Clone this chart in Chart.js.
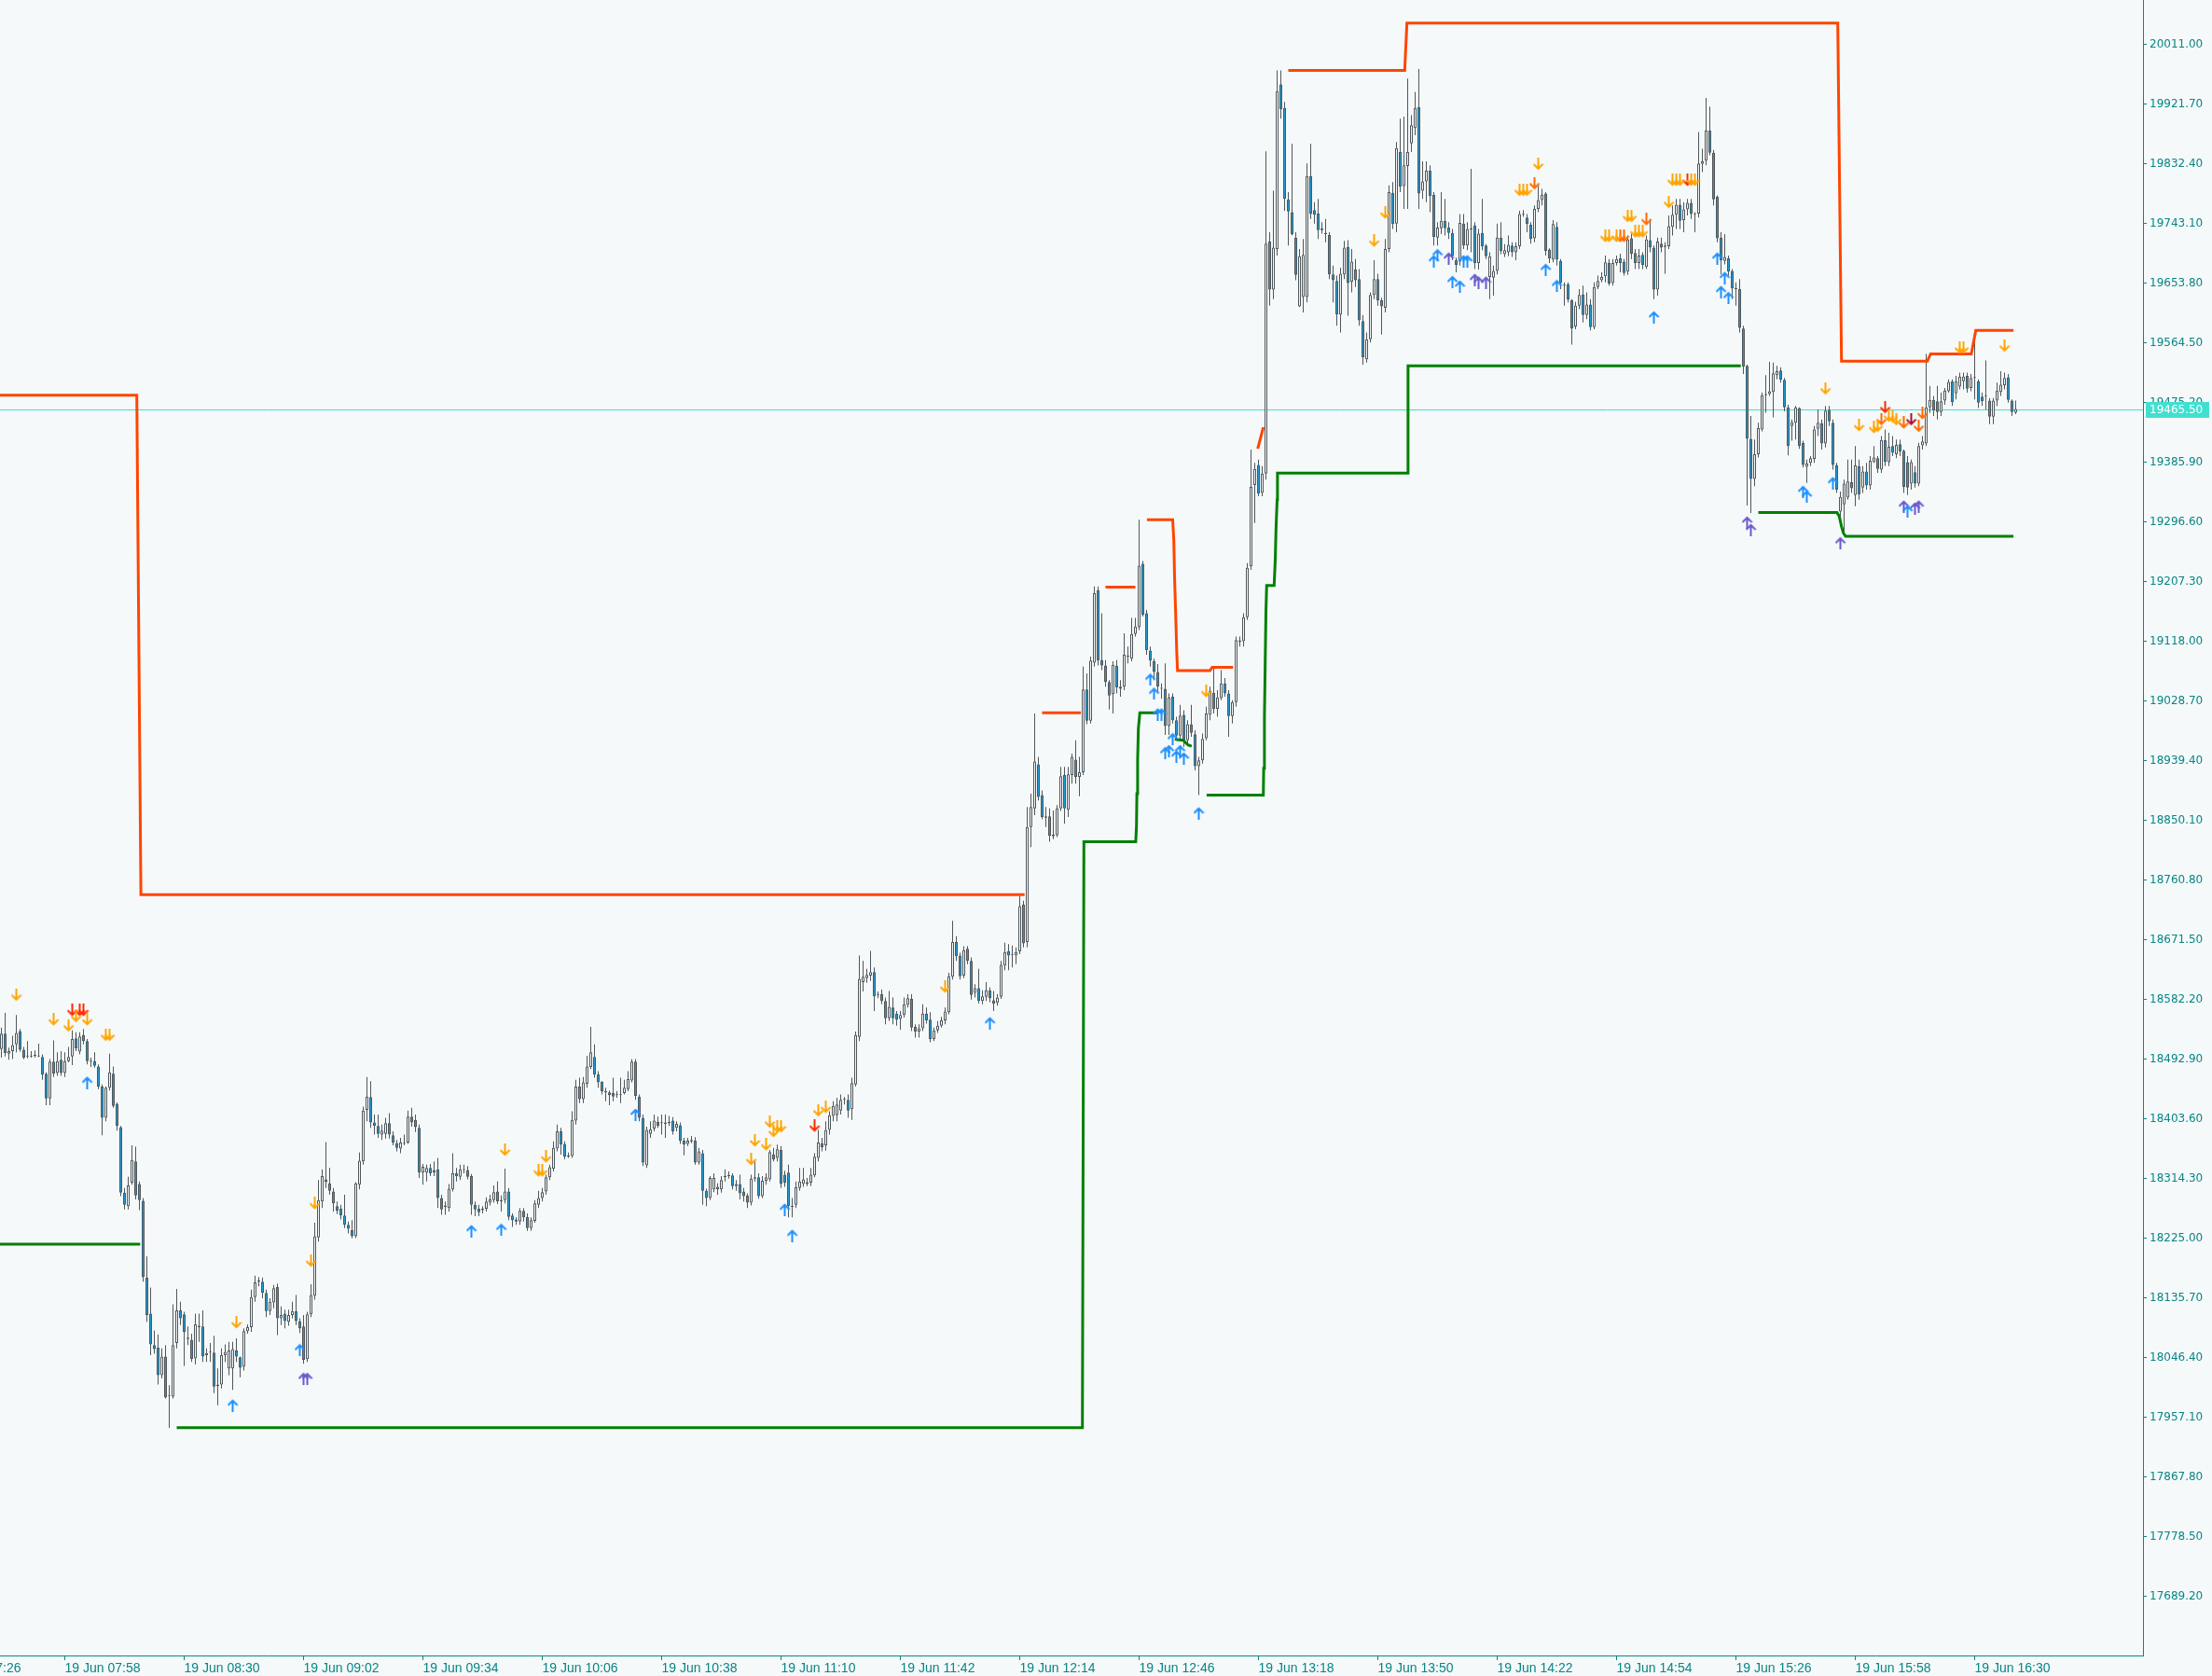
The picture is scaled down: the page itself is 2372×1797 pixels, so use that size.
<!DOCTYPE html>
<html>
<head>
<meta charset="utf-8">
<script src="https://cdn.jsdelivr.net/npm/chart.js@4.4.1/dist/chart.umd.min.js"></script>
<style>
  html, body { margin: 0; padding: 0; background: #f5f9fa; }
  #wrap { width: 2372px; height: 1797px; }
</style>
</head>
<body>
<div id="wrap"><canvas id="myChart"></canvas></div>
<script>
// 1 minute candles, 19 Jun, first bar is 07:41
const startTime = '07:41';

const opens = [
18508,18531,18501,18505,18515,18535,18507,18497,18497,18498,
18497,18496,18471,18434,18489,18472,18492,18472,18490,18497,
18524,18504,18529,18520,18489,18490,18482,18452,18405,18450,
18471,18426,18391,18293,18273,18308,18340,18306,18281,18166,
18112,18065,18061,18020,18048,17989,17988,18068,18117,18111,
18074,18073,18045,18094,18093,18050,18054,18054,18004,18006,
18050,18030,18030,18057,18047,18033,18086,18092,18137,18160,
18160,18143,18116,18129,18152,18105,18112,18100,18110,18116,
18101,18093,18044,18111,18139,18226,18280,18313,18307,18295,
18273,18269,18259,18245,18237,18228,18305,18340,18417,18436,
18398,18393,18380,18381,18397,18379,18367,18359,18367,18368,
18407,18402,18390,18323,18323,18330,18327,18328,18285,18272,
18270,18298,18322,18317,18327,18327,18318,18275,18269,18267,
18269,18278,18282,18295,18280,18282,18295,18259,18253,18250,
18266,18257,18240,18251,18275,18285,18295,18316,18329,18359,
18385,18366,18347,18348,18401,18452,18433,18456,18481,18496,
18470,18459,18445,18443,18442,18439,18440,18442,18448,18461,
18489,18437,18405,18334,18381,18389,18399,18397,18396,18397,
18401,18390,18394,18371,18366,18370,18371,18338,18352,18296,
18285,18298,18302,18298,18316,18318,18319,18303,18306,18295,
18289,18278,18314,18316,18288,18311,18313,18350,18345,18357,
18320,18323,18273,18275,18300,18306,18306,18308,18319,18345,
18367,18364,18387,18408,18409,18416,18432,18432,18418,18455,
18526,18608,18614,18618,18623,18589,18590,18580,18554,18570,
18561,18553,18559,18574,18583,18541,18534,18539,18561,18552,
18523,18536,18543,18551,18563,18616,18668,18648,18618,18658,
18640,18592,18599,18580,18586,18596,18581,18577,18586,18633,
18654,18649,18648,18654,18724,18668,18840,18868,18934,18888,
18856,18856,18826,18828,18868,18918,18866,18918,18941,18915,
18922,19046,18999,19086,19194,19090,19082,19057,19039,19081,
19050,19050,19095,19092,19129,19139,19234,19160,19104,19088,
19072,19047,19047,18991,19035,19000,18977,19008,18970,18994,
18979,18931,18940,18973,19008,19041,19017,19033,19055,19040,
19006,19027,19117,19118,19154,19230,19352,19382,19340,19369,
19716,19644,19705,19951,19916,19779,19760,19722,19619,19633,
19633,19814,19763,19758,19736,19729,19726,19667,19657,19607,
19667,19708,19656,19674,19660,19597,19540,19570,19636,19660,
19628,19617,19705,19789,19743,19850,19799,19829,19863,19886,
19917,19792,19806,19822,19786,19722,19736,19747,19737,19729,
19688,19686,19743,19710,19734,19740,19684,19729,19710,19663,
19662,19672,19722,19697,19700,19710,19700,19709,19756,19752,
19741,19721,19765,19778,19788,19704,19689,19738,19687,19650,
19652,19628,19589,19620,19637,19606,19622,19588,19648,19658,
19664,19684,19654,19684,19691,19686,19671,19721,19699,19684,
19696,19678,19718,19707,19644,19713,19708,19709,19738,19756,
19771,19748,19764,19774,19756,19758,19832,19837,19882,19849,
19783,19722,19687,19691,19672,19646,19645,19586,19530,19421,
19361,19398,19435,19486,19488,19491,19516,19523,19509,19468,
19440,19445,19467,19415,19379,19385,19391,19436,19444,19414,
19464,19445,19381,19312,19323,19333,19356,19337,19380,19348,
19372,19351,19386,19392,19375,19419,19386,19410,19398,19413,
19403,19386,19354,19371,19354,19411,19414,19468,19479,19477,
19461,19478,19492,19507,19489,19499,19507,19515,19497,19512,
19507,19484,19484,19478,19454,19478,19491,19501,19513,19478,
19460];

const highs = [
18540,18562,18510,18528,18559,18538,18511,18520,18505,18506,
18516,18500,18473,18493,18521,18503,18505,18503,18511,18536,
18533,18533,18538,18523,18495,18503,18485,18455,18452,18501,
18482,18428,18393,18300,18317,18364,18362,18310,18285,18198,
18151,18087,18081,18060,18065,18005,18126,18149,18130,18115,
18093,18082,18112,18112,18117,18060,18068,18079,18030,18060,
18066,18070,18070,18075,18048,18090,18096,18148,18169,18167,
18166,18148,18135,18155,18157,18123,18118,18118,18130,18140,
18105,18110,18115,18156,18248,18312,18328,18369,18330,18300,
18280,18275,18290,18250,18252,18309,18353,18422,18466,18460,
18410,18410,18395,18405,18412,18385,18372,18375,18380,18416,
18420,18410,18395,18336,18335,18336,18340,18345,18290,18280,
18306,18352,18330,18335,18335,18333,18321,18280,18275,18273,
18286,18290,18304,18310,18289,18329,18300,18262,18256,18270,
18270,18262,18256,18282,18296,18300,18320,18335,18370,18395,
18390,18370,18353,18415,18462,18465,18466,18498,18541,18515,
18475,18460,18450,18446,18465,18445,18465,18462,18475,18493,
18493,18440,18410,18392,18400,18410,18407,18410,18410,18408,
18406,18400,18398,18375,18375,18378,18376,18360,18357,18299,
18318,18322,18307,18318,18328,18325,18322,18312,18320,18300,
18292,18320,18340,18322,18318,18322,18357,18360,18365,18363,
18326,18335,18285,18310,18330,18330,18315,18330,18352,18387,
18375,18400,18415,18430,18435,18440,18436,18440,18465,18534,
18648,18640,18628,18655,18630,18594,18597,18585,18595,18585,
18565,18565,18585,18590,18590,18545,18545,18575,18570,18563,
18540,18550,18556,18570,18622,18700,18677,18652,18662,18662,
18645,18605,18628,18596,18608,18600,18595,18590,18640,18667,
18665,18663,18660,18737,18730,18870,18890,19010,18945,18895,
18870,18868,18865,18873,18930,18930,18930,18950,18970,18945,
19080,19070,19095,19200,19200,19160,19090,19060,19088,19090,
19060,19130,19110,19153,19153,19300,19238,19165,19110,19092,
19084,19055,19085,19040,19040,19005,19023,19015,19000,19023,
18985,18945,18980,19020,19050,19080,19045,19075,19063,19045,
19030,19125,19125,19160,19235,19405,19385,19390,19380,19851,
19730,19792,19972,19972,19925,19790,19862,19730,19705,19720,
19833,19862,19775,19780,19745,19750,19730,19680,19665,19677,
19717,19718,19705,19690,19675,19606,19580,19640,19688,19668,
19632,19720,19800,19805,19865,19900,19903,19960,19905,19940,
19974,19836,19836,19830,19790,19745,19790,19780,19745,19735,
19692,19757,19757,19745,19825,19745,19735,19780,19712,19700,
19680,19743,19745,19712,19725,19715,19715,19762,19763,19757,
19745,19770,19800,19795,19790,19706,19748,19745,19690,19655,
19655,19630,19626,19645,19650,19640,19630,19655,19665,19670,
19695,19690,19690,19695,19698,19690,19725,19728,19705,19705,
19700,19725,19750,19710,19722,19722,19715,19755,19770,19780,
19780,19775,19780,19780,19760,19880,19855,19931,19918,19853,
19785,19730,19727,19695,19675,19655,19660,19590,19532,19455,
19420,19445,19490,19516,19536,19535,19530,19528,19512,19472,
19450,19470,19468,19418,19390,19395,19440,19465,19450,19470,
19470,19450,19385,19342,19360,19390,19390,19410,19390,19380,
19385,19395,19410,19395,19425,19435,19430,19425,19420,19420,
19405,19395,19390,19380,19415,19425,19548,19500,19485,19500,
19490,19497,19510,19510,19515,19520,19520,19520,19518,19582,
19510,19490,19538,19482,19482,19505,19522,19520,19518,19480,
19478];

const lows = [
18495,18497,18492,18493,18503,18504,18493,18494,18495,18495,
18496,18462,18424,18424,18466,18468,18468,18466,18488,18484,
18505,18500,18515,18485,18481,18480,18448,18379,18400,18446,
18420,18386,18288,18268,18268,18305,18283,18267,18160,18100,
18050,18052,18006,18015,17985,17941,17985,18060,18095,18034,
18065,18040,18036,18070,18040,18040,18040,17993,17975,18000,
18040,18020,17998,18040,18017,18027,18082,18085,18130,18153,
18135,18107,18110,18120,18080,18095,18090,18094,18105,18095,
18083,18037,18040,18107,18133,18220,18270,18300,18290,18265,
18261,18253,18240,18232,18225,18225,18298,18335,18400,18390,
18380,18375,18372,18374,18374,18364,18355,18352,18364,18366,
18392,18384,18315,18305,18310,18318,18318,18270,18260,18260,
18265,18295,18310,18312,18322,18313,18260,18258,18258,18262,
18265,18274,18278,18276,18265,18277,18252,18242,18245,18245,
18250,18236,18236,18248,18270,18280,18290,18312,18325,18355,
18350,18343,18345,18345,18395,18427,18427,18450,18478,18465,
18450,18440,18430,18424,18430,18435,18427,18440,18445,18458,
18432,18400,18333,18330,18375,18385,18390,18380,18375,18393,
18380,18385,18366,18349,18363,18367,18335,18335,18275,18273,
18282,18294,18290,18293,18310,18314,18298,18296,18283,18280,
18270,18274,18310,18284,18285,18305,18310,18340,18340,18300,
18302,18256,18256,18270,18296,18302,18303,18303,18316,18340,
18355,18356,18380,18400,18400,18410,18425,18405,18402,18452,
18520,18594,18607,18610,18565,18584,18575,18545,18550,18545,
18543,18537,18555,18570,18535,18525,18525,18535,18546,18518,
18520,18532,18540,18545,18560,18612,18640,18612,18614,18635,
18582,18585,18576,18575,18580,18578,18565,18573,18583,18626,
18626,18630,18635,18650,18660,18660,18810,18858,18880,18852,
18840,18818,18822,18825,18864,18845,18855,18905,18905,18886,
18918,18994,18995,19080,19082,19075,19050,19016,19010,19040,
19035,19045,19085,19088,19125,19135,19155,19098,19080,19060,
19042,19032,18978,18978,18995,18970,18970,18960,18963,18975,
18925,18888,18935,18970,19000,19010,19005,19030,19035,18975,
18995,19020,19110,19110,19150,19225,19295,19335,19335,19360,
19620,19630,19695,19900,19762,19710,19725,19658,19618,19610,
19625,19750,19743,19720,19728,19715,19660,19625,19590,19580,
19660,19605,19640,19648,19590,19532,19535,19565,19630,19620,
19577,19610,19700,19735,19730,19790,19765,19765,19850,19875,
19765,19780,19775,19760,19710,19710,19727,19725,19720,19688,
19670,19680,19705,19703,19700,19675,19674,19703,19690,19630,
19635,19667,19697,19693,19694,19693,19688,19705,19753,19730,
19713,19715,19760,19770,19695,19684,19685,19680,19645,19620,
19625,19562,19585,19615,19595,19600,19583,19585,19645,19655,
19655,19650,19650,19680,19670,19665,19666,19690,19675,19675,
19675,19675,19700,19630,19635,19700,19668,19705,19725,19735,
19735,19730,19755,19750,19730,19752,19820,19830,19845,19770,
19715,19667,19682,19665,19630,19620,19580,19518,19321,19310,
19350,19393,19432,19460,19485,19453,19510,19505,19462,19396,
19418,19420,19406,19378,19355,19380,19385,19425,19405,19408,
19440,19375,19340,19290,19276,19330,19340,19320,19330,19340,
19345,19345,19385,19370,19370,19380,19380,19395,19392,19395,
19340,19337,19345,19348,19350,19405,19410,19460,19455,19450,
19455,19472,19490,19470,19480,19495,19495,19490,19492,19480,
19467,19470,19465,19443,19443,19470,19485,19495,19475,19455,
19458];

const closes = [
18531,18502,18505,18514,18532,18507,18495,18498,18498,18499,
18498,18470,18434,18489,18471,18490,18472,18490,18496,18523,
18509,18527,18520,18490,18490,18483,18452,18405,18450,18473,
18423,18393,18293,18275,18304,18342,18289,18282,18167,18110,
18066,18059,18020,18048,17987,17990,18065,18117,18105,18085,
18076,18044,18096,18092,18048,18053,18055,18003,18006,18050,
18055,18057,18059,18048,18031,18086,18092,18137,18159,18162,
18143,18116,18130,18150,18105,18110,18101,18110,18116,18101,
18090,18043,18111,18140,18228,18282,18318,18309,18296,18277,
18266,18259,18245,18239,18228,18307,18341,18416,18437,18398,
18393,18381,18386,18397,18380,18368,18360,18368,18368,18407,
18398,18391,18323,18332,18330,18322,18323,18285,18268,18274,
18299,18322,18318,18328,18328,18317,18275,18268,18264,18269,
18280,18283,18294,18280,18282,18295,18257,18252,18250,18266,
18256,18240,18252,18277,18285,18294,18316,18331,18360,18385,
18365,18347,18349,18402,18452,18433,18458,18482,18503,18470,
18458,18445,18443,18439,18437,18440,18439,18450,18463,18489,
18438,18405,18338,18387,18388,18401,18393,18398,18398,18399,
18385,18396,18371,18365,18371,18372,18338,18355,18296,18285,
18315,18315,18298,18312,18318,18319,18303,18306,18292,18288,
18278,18314,18316,18288,18311,18316,18354,18343,18358,18306,
18308,18273,18272,18301,18310,18313,18309,18320,18347,18368,
18361,18387,18409,18423,18425,18432,18433,18416,18457,18529,
18613,18616,18619,18623,18587,18590,18580,18554,18571,18554,
18552,18559,18575,18584,18540,18534,18539,18561,18551,18523,
18536,18543,18551,18564,18617,18668,18647,18617,18656,18640,
18589,18599,18580,18587,18596,18584,18576,18585,18634,18653,
18648,18650,18653,18722,18666,18840,18870,18938,18885,18855,
18854,18827,18829,18868,18916,18868,18919,18945,18915,18922,
19046,18999,19089,19190,19089,19082,19057,19037,19083,19049,
19047,19098,19096,19129,19140,19231,19158,19105,19089,19072,
19050,19048,18991,19034,19000,18977,19007,18970,18994,18981,
18931,18940,18972,19010,19044,19017,19034,19055,19040,19006,
19027,19120,19119,19154,19228,19349,19376,19339,19369,19713,
19644,19707,19941,19914,19780,19761,19727,19666,19694,19696,
19814,19757,19756,19733,19733,19727,19667,19658,19607,19668,
19707,19654,19686,19658,19598,19543,19570,19636,19660,19628,
19619,19705,19790,19742,19856,19798,19830,19850,19890,19916,
19788,19806,19822,19784,19723,19737,19747,19736,19729,19694,
19681,19744,19710,19735,19736,19684,19728,19709,19694,19694,
19672,19722,19702,19703,19711,19700,19709,19757,19757,19742,
19720,19765,19778,19786,19702,19691,19742,19689,19654,19651,
19629,19586,19620,19636,19606,19622,19588,19648,19657,19663,
19685,19653,19684,19690,19684,19669,19719,19698,19684,19695,
19681,19719,19707,19644,19716,19707,19710,19739,19756,19771,
19747,19764,19774,19757,19757,19833,19836,19882,19849,19779,
19721,19688,19693,19671,19646,19645,19587,19529,19421,19361,
19398,19437,19486,19488,19492,19519,19522,19509,19468,19410,
19446,19468,19410,19382,19384,19392,19435,19445,19414,19463,
19447,19382,19345,19334,19354,19357,19347,19381,19338,19372,
19351,19388,19393,19376,19419,19386,19409,19400,19412,19402,
19349,19348,19386,19354,19410,19417,19468,19479,19463,19461,
19477,19493,19506,19476,19507,19514,19514,19496,19512,19513,
19475,19477,19485,19454,19478,19493,19502,19512,19479,19461,
19465.5];

// price axis and time axis labels
const yTickLabels = [17689.2, 17778.5, 17867.8, 17957.1, 18046.4, 18135.7, 18225.0, 18314.3, 18403.6,
  18492.9, 18582.2, 18671.5, 18760.8, 18850.1, 18939.4, 19028.7, 19118.0, 19207.3, 19296.6,
  19385.9, 19475.2, 19564.5, 19653.8, 19743.1, 19832.4, 19921.7, 20011.0];
const xTickLabels = ['19 Jun 07:26', '19 Jun 07:58', '19 Jun 08:30', '19 Jun 09:02', '19 Jun 09:34',
  '19 Jun 10:06', '19 Jun 10:38', '19 Jun 11:10', '19 Jun 11:42', '19 Jun 12:14', '19 Jun 12:46',
  '19 Jun 13:18', '19 Jun 13:50', '19 Jun 14:22', '19 Jun 14:54', '19 Jun 15:26', '19 Jun 15:58',
  '19 Jun 16:30'];

// resistance / support step lines: [bar, price], null = gap
const resistance = [
  [-1, 19486], [36.3, 19486], [37.4, 18739], [274.3, 18739], null,
  [279, 19011], [289.4, 19011], null,
  [296, 19199], [304, 19199], null,
  [307.1, 19300], [314, 19300], [314.3, 19270], [314.5, 19215], [314.8, 19160], [315.1, 19100],
  [315.3, 19074], [324, 19074], [324.6, 19079], [330.2, 19079], null,
  [336.8, 19406], [338.3, 19438], null,
  [345, 19972], [376.2, 19972], [376.8, 20043], [492.3, 20043], [493.3, 19537], [516.3, 19537],
  [517.2, 19548], [528.1, 19548], [529.3, 19583], [539.4, 19583]
];
const support = [
  [-1, 18216], [37.2, 18216], null,
  [47, 17941.5], [289.8, 17941.5], [290.2, 18818], [304.1, 18818], [304.3, 18842], [304.4, 18890],
  [304.6, 18940], [304.8, 18987], [305.2, 19011], [309.8, 19011], null,
  [314.6, 18972], [315.2, 18971], [316.8, 18970], [318.1, 18963], [319.1, 18961], null,
  [323.1, 18888], [338.3, 18888], [338.4, 18928], [338.6, 19005], [338.8, 19084], [339, 19162],
  [339.2, 19201.5], [341.2, 19201.5], [341.5, 19240], [341.7, 19285], [342, 19330], [342.1, 19369.5],
  [376.9, 19369.5], [377.1, 19530], [466.3, 19530], null,
  [471, 19310.5], [492.1, 19310.5], [492.7, 19305], [493.3, 19290], [493.8, 19280], [494.4, 19275],
  [539.4, 19275]
];

// signal arrows: [bar, price]
const upBlue = [[23,18458],[62,17975],[80,18058],[126,18236],[134,18238],[170,18410],[210,18268],
  [212,18229],[265,18547],[308,19061],[309,19040],[310,19009],[311,19009],[312,18951],[313,18954],
  [314,18972],[315,18946],[316,18954],[317,18943],[321,18861],[384,19687],[385,19696],[389,19656],
  [391,19649],[392,19687],[393,19687],[414,19674],[417,19650],[443,19603],[460,19691],[461,19641],
  [462,19662],[463,19632],[483,19342],[484,19335],[491,19355],[511,19313]];
const upPurple = [[81,18015],[82,18015],[388,19691],[395,19659],[396,19655],[398,19655],[468,19296],
  [469,19285],[493,19265],[510,19320],[513,19317],[514,19320]];
const downOrange = [[4,18589],[14,18552],[18,18543],[20,18557],[23,18552],[28,18529],[29,18529],
  [63,18099],[83,18191],[84,18277],[135,18357],[144,18326],[145,18326],[146,18347],[201,18343],
  [202,18371],[205,18365],[206,18399],[207,18385],[208,18392],[209,18392],[219,18416],[221,18421],
  [253,18601],[323,19043],[368,19717],[371,19759],[407,19793],[408,19793],[409,19793],[412,19832],
  [430,19724],[431,19724],[433,19724],[436,19754],[437,19754],[438,19731],[439,19731],[440,19731],
  [447,19775],[448,19808],[449,19808],[450,19808],[453,19808],[454,19808],[489,19496],[498,19441],
  [502,19438],[503,19440],[506,19455],[507,19454],[508,19450],[525,19557],[526,19557],[537,19560]];
const downOrangeRed = [[411,19803],[434,19724],[435,19724],[441,19749],[504,19450],[510,19445],
  [514,19440],[515,19459]];
const downRed = [[19,18566],[21,18566],[22,18566],[218,18393],[452,19808],[505,19468]];
const downDarkRed = [[512,19450]];

const toMinutes = t => { const [h, m] = t.split(':').map(Number); return h * 60 + m; };
const xTickValues = xTickLabels.map(l => toMinutes(l.slice(-5)) - toMinutes(startTime));
const lastPrice = closes[closes.length - 1];

const teal = '#0a8585';
const bg = '#f5f9fa';

const bodies = closes.map((c, i) => ({x: i, y: [opens[i], c]}));
const wicks = closes.map((c, i) => ({x: i, y: [lows[i], highs[i]]}));
const bodyFill = closes.map((c, i) => c < opens[i] ? '#1e9bd4' : bg);

const toPoints = arr => {
    let lastX = 0;
    return arr.map(p => {
        if (p === null) return {x: lastX + 0.01, y: null};
        lastX = p[0];
        return {x: p[0], y: p[1]};
    });
};

function arrowImage(color, up) {
    const c = document.createElement('canvas');
    c.width = 12; c.height = 14;
    const g = c.getContext('2d');
    g.strokeStyle = color;
    g.lineWidth = 2;
    g.beginPath();
    if (up) {
        g.moveTo(6, 14); g.lineTo(6, 2);
        g.moveTo(1, 7); g.lineTo(6, 2); g.lineTo(11, 7);
    } else {
        g.moveTo(6, 0); g.lineTo(6, 12);
        g.moveTo(1, 7); g.lineTo(6, 12); g.lineTo(11, 7);
    }
    g.stroke();
    return c;
}

const arrowSet = (pts, color, up) => ({
    type: 'scatter',
    data: pts.map(p => ({x: p[0], y: p[1]})),
    pointStyle: arrowImage(color, up),
    order: 0
});

// current price line and its label on the price axis
const priceLine = {
    id: 'priceLine',
    beforeDatasetsDraw(chart) {
        const {ctx, chartArea, scales} = chart;
        const py = Math.round(scales.y.getPixelForValue(lastPrice)) + 0.5;
        ctx.save();
        ctx.strokeStyle = '#40e0d0';
        ctx.lineWidth = 1;
        ctx.beginPath();
        ctx.moveTo(chartArea.left, py);
        ctx.lineTo(chartArea.right, py);
        ctx.stroke();
        ctx.restore();
    },
    afterDraw(chart) {
        const {ctx, chartArea, scales} = chart;
        const py = Math.round(scales.y.getPixelForValue(lastPrice));
        ctx.save();
        ctx.fillStyle = '#40e0d0';
        ctx.fillRect(chartArea.right + 3, py - 8, 68, 17);
        ctx.fillStyle = '#ffffff';
        ctx.font = '12px "DejaVu Sans"';
        ctx.textBaseline = 'middle';
        ctx.textAlign = 'left';
        ctx.fillText(lastPrice.toFixed(2), chartArea.right + 7, py + 1);
        ctx.restore();
    }
};

const ctx = document.getElementById('myChart');

new Chart(ctx, {
    type: 'bar',
    data: {
        datasets: [
            arrowSet(upBlue, '#1e90ff', true),
            arrowSet(upPurple, '#6a5acd', true),
            arrowSet(downOrange, '#ffa500', false),
            arrowSet(downOrangeRed, '#ff6a00', false),
            arrowSet(downRed, '#ff2a00', false),
            arrowSet(downDarkRed, '#a8102e', false),
            {
                type: 'line',
                data: toPoints(resistance),
                borderColor: '#ff4500',
                borderWidth: 3,
                pointRadius: 0,
                spanGaps: false,
                order: 1
            },
            {
                type: 'line',
                data: toPoints(support),
                borderColor: '#008000',
                borderWidth: 3,
                pointRadius: 0,
                spanGaps: false,
                order: 1
            },
            {
                data: bodies,
                backgroundColor: bodyFill,
                borderColor: '#50575b',
                borderWidth: 1,
                borderSkipped: false,
                barThickness: 3,
                minBarLength: 1,
                inflateAmount: 0,
                grouped: false,
                order: 2
            },
            {
                data: wicks,
                backgroundColor: '#50575b',
                borderWidth: 0,
                barThickness: 1,
                inflateAmount: 0,
                grouped: false,
                order: 3
            }
        ]
    },
    options: {
        responsive: true,
        maintainAspectRatio: false,
        animation: false,
        events: [],
        layout: { padding: 0, autoPadding: false },
        plugins: {
            legend: { display: false },
            tooltip: { enabled: false }
        },
        scales: {
            x: {
                type: 'linear',
                position: 'bottom',
                min: -0.375,
                max: 574.125,
                offset: false,
                border: { color: teal, width: 1 },
                grid: { offset: false, drawOnChartArea: false, drawTicks: true, tickLength: 5, color: teal },
                afterBuildTicks: scale => {
                    scale.ticks = xTickValues.map(v => ({value: v}));
                },
                afterFit: scale => {
                    scale.height = 22;
                    scale.paddingLeft = 0;
                    scale.paddingRight = 0;
                },
                ticks: {
                    autoSkip: false,
                    maxRotation: 0,
                    minRotation: 0,
                    align: 'start',
                    padding: 1,
                    color: teal,
                    font: { family: '"Liberation Sans", Arial', size: 14 },
                    callback: (value, index) => xTickLabels[index]
                }
            },
            y: {
                type: 'linear',
                position: 'right',
                min: 17600.7,
                max: 20077.4,
                border: { color: teal, width: 1 },
                grid: { drawOnChartArea: false, drawTicks: true, tickLength: 4, color: teal },
                afterBuildTicks: scale => {
                    scale.ticks = yTickLabels.map(v => ({value: v}));
                },
                afterFit: scale => {
                    scale.width = 74;
                    scale.paddingTop = 0;
                    scale.paddingBottom = 0;
                },
                ticks: {
                    autoSkip: false,
                    padding: 3,
                    color: teal,
                    font: { family: '"DejaVu Sans"', size: 12 },
                    callback: value => value.toFixed(2)
                }
            }
        }
    },
    plugins: [priceLine]
});
</script>
</body>
</html>
